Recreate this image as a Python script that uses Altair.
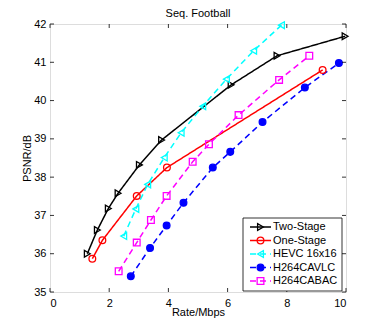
import altair as alt
import pandas as pd

names = ["Two-Stage", "One-Stage", "HEVC 16x16", "H264CAVLC", "H264CABAC"]
colors = ["#000000", "#ff0000", "#00ffff", "#0000ff", "#ff00ff"]
shapes = ["triangle-right", "circle", "triangle-left", "circle", "square"]
fills = ["transparent", "transparent", "transparent", "#0000ff", "transparent"]
dashes = [[1, 0], [1, 0], [6, 4], [6, 4], [6, 4]]

two_x = [1.26, 1.60, 1.97, 2.30, 3.02, 3.77, 6.12, 7.67, 9.97]
two_y = [36.00, 36.62, 37.18, 37.58, 38.32, 38.97, 40.41, 41.17, 41.68]
one_x = [1.43, 1.77, 2.93, 3.95, 9.21]
one_y = [35.87, 36.35, 37.51, 38.25, 40.80]
hevc_x = [2.49, 2.90, 3.30, 3.86, 4.43, 5.16, 5.96, 6.88, 7.82]
hevc_y = [36.46, 37.17, 37.81, 38.51, 39.16, 39.85, 40.56, 41.30, 41.97]
cavlc_x = [2.73, 3.38, 3.94, 4.51, 5.50, 6.09, 7.18, 8.61, 9.76]
cavlc_y = [35.41, 36.15, 36.74, 37.33, 38.25, 38.66, 39.44, 40.34, 40.98]
cabac_x = [2.32, 2.93, 3.41, 3.94, 4.82, 5.37, 6.37, 7.74, 8.76]
cabac_y = [35.54, 36.29, 36.88, 37.51, 38.40, 38.86, 39.62, 40.54, 41.17]

title_text = ["Seq. Football"]
x_ticks = [0, 2, 4, 6, 8, 10]
y_ticks = [35, 36, 37, 38, 39, 40, 41, 42]

series = [(names[0], two_x, two_y), (names[1], one_x, one_y), (names[2], hevc_x, hevc_y),
          (names[3], cavlc_x, cavlc_y), (names[4], cabac_x, cabac_y)]
rows = []
for n, xs_, ys_ in series:
    for i, (a, b) in enumerate(zip(xs_, ys_)):
        rows.append({"series": n, "rate": a, "psnr": b, "i": i})
df = pd.DataFrame(rows)

W, H = 296, 268
FONT = "Liberation Sans"

xs = alt.Scale(domain=[0, 10], nice=False)
ys = alt.Scale(domain=[35, 42], nice=False)
col = alt.Color("series:N", scale=alt.Scale(domain=names, range=colors), legend=None)
shp = alt.Shape("series:N", scale=alt.Scale(domain=names, range=shapes), legend=None)
fil = alt.Fill("series:N", scale=alt.Scale(domain=names, range=fills), legend=None)
dsh = alt.StrokeDash("series:N", scale=alt.Scale(domain=names, range=dashes), legend=None)

xaxis = alt.Axis(values=x_ticks, title="Rate/Mbps", ticks=False, domain=False, grid=False,
                 labelPadding=5, titlePadding=-2, labelFontSize=11, titleFontSize=11,
                 labelOverlap=False, titleFontWeight="normal", labelColor="black", titleColor="black")
yaxis = alt.Axis(values=y_ticks, tickCount=8, title="PSNR/dB", ticks=False, domain=False, grid=False,
                 labelPadding=4, titleX=-23, titleBaseline="middle", labelFontSize=11, titleFontSize=11,
                 labelOverlap=False, titleFontWeight="normal", labelColor="black", titleColor="black")

lines = alt.Chart(df).mark_line(strokeWidth=1.5).encode(
    x=alt.X("rate:Q", scale=xs, axis=xaxis, title="Rate/Mbps"),
    y=alt.Y("psnr:Q", scale=ys, axis=yaxis, title="PSNR/dB"),
    color=col, strokeDash=dsh, detail="series:N", order="i:Q")

pts = alt.Chart(df).mark_point(size=45, strokeWidth=1.3, opacity=1).encode(
    x=alt.X("rate:Q", scale=xs, axis=xaxis, title="Rate/Mbps"),
    y=alt.Y("psnr:Q", scale=ys, axis=yaxis, title="PSNR/dB"),
    color=col, shape=shp, fill=fil)

xt = pd.DataFrame({"v": x_ticks})
yt = pd.DataFrame({"v": y_ticks})
tk_bottom = alt.Chart(xt).mark_rule(color="black", strokeWidth=0.8).encode(
    x=alt.X("v:Q", scale=xs, axis=xaxis, title="Rate/Mbps"), y=alt.value(H), y2=alt.value(H - 4))
tk_top = alt.Chart(xt).mark_rule(color="black", strokeWidth=0.8).encode(
    x=alt.X("v:Q", scale=xs, axis=xaxis, title="Rate/Mbps"), y=alt.value(0), y2=alt.value(4))
tk_left = alt.Chart(yt).mark_rule(color="black", strokeWidth=0.8).encode(
    y=alt.Y("v:Q", scale=ys, axis=yaxis, title="PSNR/dB"), x=alt.value(0), x2=alt.value(4))
tk_right = alt.Chart(yt).mark_rule(color="black", strokeWidth=0.8).encode(
    y=alt.Y("v:Q", scale=ys, axis=yaxis, title="PSNR/dB"), x=alt.value(W), x2=alt.value(W - 4))

main = alt.layer(lines, pts, tk_bottom, tk_top, tk_left, tk_right)

# legend
leg_df = pd.DataFrame({"series": names, "k": list(range(len(names)))})
ly = alt.Y("k:Q", scale=alt.Scale(domain=[0, 4], range=[203, 257], nice=False, zero=False), axis=None)
box = alt.Chart(pd.DataFrame({"a": [0]})).mark_rect(fill="white", stroke="black", strokeWidth=0.8).encode(
    x=alt.value(193), x2=alt.value(292), y=alt.value(194), y2=alt.value(267))
leg_lines = alt.Chart(leg_df).mark_rule(strokeWidth=1.5).encode(
    y=ly, x=alt.value(200), x2=alt.value(221), color=col, strokeDash=dsh)
leg_pts = alt.Chart(leg_df).mark_point(size=45, strokeWidth=1.3, opacity=1).encode(
    y=ly, x=alt.value(210.5), color=col, shape=shp, fill=fil)
leg_txt = alt.Chart(leg_df).mark_text(align="left", baseline="middle", fontSize=11, font=FONT, color="black").encode(
    y=ly, x=alt.value(223), text="series:N")
ttl = alt.Chart(pd.DataFrame({"t": title_text})).mark_text(
    align="center", baseline="middle", fontSize=11, font=FONT, color="black").encode(
    text="t:N", x=alt.value(W / 2), y=alt.value(-10))
legend = alt.layer(box, leg_lines, leg_pts, leg_txt, ttl)

chart = alt.layer(main, legend).resolve_scale(y="independent").properties(
    width=W, height=H,
    autosize=alt.AutoSizeParams(type="none"),
    padding={"left": 42, "top": 16, "right": 28, "bottom": 29},
).configure_view(stroke="black", strokeWidth=0.8).configure_axis(
    labelFont=FONT, titleFont=FONT, labelOverlap=False
).configure(background="white")

chart.save("out.html", embed_options={"renderer": "svg", "actions": False})
